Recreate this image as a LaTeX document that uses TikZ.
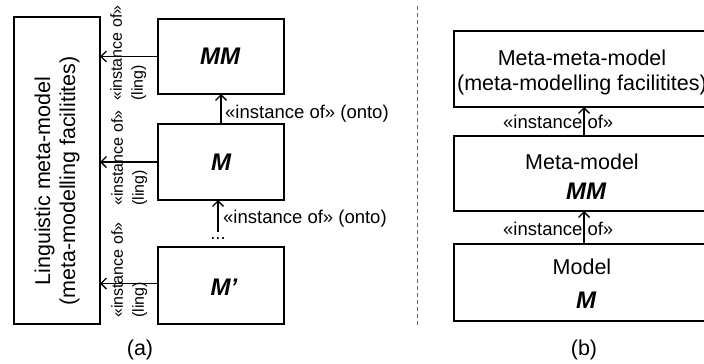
\documentclass[tikz,border=0pt]{standalone}
\usepackage{fontspec}
\setmainfont{Liberation Sans}
\usetikzlibrary{arrows.meta,calc}

\tikzset{
  box/.style={draw, line width=2.6pt, inner sep=0pt, outer sep=0pt, align=center},
  arr/.style={line width=1.4pt, -{Straight Barb[length=5.5pt,width=11pt,line width=1.4pt]}},
  boxtxt/.style={font=\fontsize{21.5}{25}\selectfont, inner sep=0pt, align=center},
  bigit/.style={font=\fontsize{24}{26}\selectfont\bfseries\itshape, inner sep=0pt},
  onto/.style={font=\fontsize{18.5}{20}\selectfont, inner sep=0pt},
  inst/.style={font=\fontsize{18.5}{20}\selectfont, inner sep=0pt},
  ling/.style={font=\fontsize{16}{21}\selectfont, inner sep=0pt, rotate=90, anchor=north west, align=left},
  caption/.style={font=\fontsize{21.5}{24}\selectfont, inner sep=0pt}
}

\begin{document}
\begin{tikzpicture}[x=1pt, y=-1pt]
\useasboundingbox (0,0) rectangle (704,364);
\clip (0,0) rectangle (704,364);

% ---------- (a) linguistic / ontological view ----------
\node[box, minimum width=86pt, minimum height=307pt] (lmm) at (57,170.5) {};
\node[boxtxt, rotate=90] (lmmtxt) at (57,181) {Linguistic meta-model\\(meta-modelling facilitites)};

\node[box, minimum width=126pt, minimum height=75pt] (MM) at (221,56.5) {};
\node[bigit] (MMtxt) at (220,56) {MM};
\node[box, minimum width=126pt, minimum height=76pt] (M) at (221,162) {};
\node[bigit] (Mtxt) at (221,162) {M};
\node[box, minimum width=126pt, minimum height=77pt] (Mp) at (221,285.5) {};
\node[bigit] (Mptxt) at (224,287) {M’};

% ontological instance-of chain
\draw[arr] (M.north) -- (MM.south);
\node[onto, anchor=base west] (onto1) at (225,118) {«instance of» (onto)};
\coordinate (dtop) at (218,232);
\draw[arr] (dtop) -- (dtop |- M.south);
\node[onto, anchor=base west] (onto2) at (223,223) {«instance of» (onto)};
\node[onto, anchor=base] (dots) at (218,239) {...};

% linguistic instance-of arrows
\draw[arr] (MM.west) -- (MM.west -| lmm.east);
\draw[arr] (M.west) -- (M.west -| lmm.east);
\draw[arr] ($(Mp.west)+(0,-2)$) -- ($(Mp.west -| lmm.east)+(0,-2)$);
\node[ling] (ling1) at (110,101) {«instance of»\\(ling)};
\node[ling] (ling2) at (111,206) {«instance of»\\(ling)};
\node[ling] (ling3) at (111,318) {«instance of»\\(ling)};

\node[caption] (capa) at (140,350) {(a)};

% ---------- separator ----------
\draw[black!60, line width=1pt, dash pattern=on 4pt off 3pt] (417,6) coordinate (sepT) -- (417,325) coordinate (sepB);

% ---------- (b) classic meta-modelling stack ----------
\node[box, minimum width=260pt, minimum height=76pt] (mmm) at (584,69) {};
\node[boxtxt] (mmmtxt) at (582,72) {Meta-meta-model\\(meta-modelling facilitites)};
\node[box, minimum width=260pt, minimum height=75pt] (mm) at (584,173.5) {};
\node[boxtxt, anchor=base] (mmtxt) at (582,169) {Meta-model};
\node[bigit, anchor=base] (mmsym) at (586,199) {MM};
\node[box, minimum width=260pt, minimum height=77pt] (m) at (584,282.5) {};
\node[boxtxt, anchor=base] (mtxt) at (582,274) {Model};
\node[bigit, anchor=base] (msym) at (586,308) {M};

\draw[arr] (mm.north) -- (mmm.south);
\node[inst, anchor=base west] (inst1) at (503,128) {«instance of»};
\draw[arr] (m.north) -- (mm.south);
\node[inst, anchor=base west] (inst2) at (503,235) {«instance of»};

\node[caption] (capb) at (584,350) {(b)};
\end{tikzpicture}
\end{document}
